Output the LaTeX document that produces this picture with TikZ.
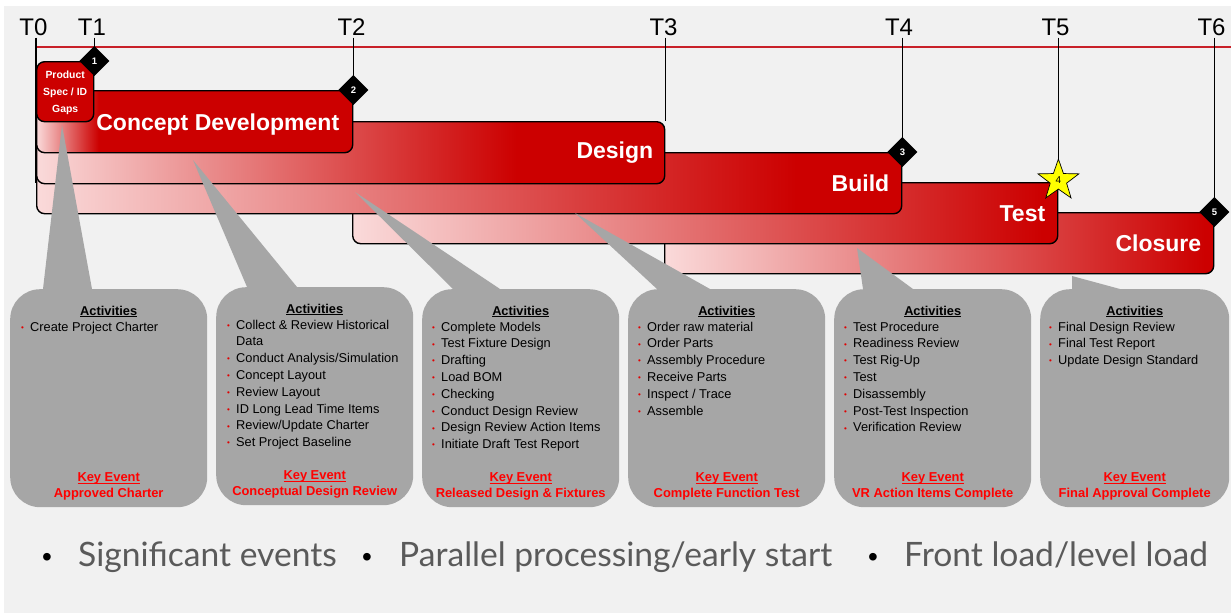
\documentclass[tikz,border=0pt]{standalone}
\usepackage{fontspec}
\setmainfont{Liberation Sans}
\newfontfamily\notefont{Lato}
\usetikzlibrary{shapes.geometric,calc}

\definecolor{pagegray}{RGB}{241,241,241}
\definecolor{barred}{RGB}{204,0,0}
\definecolor{barpink}{RGB}{250,218,218}
\definecolor{axisred}{RGB}{200,32,40}
\definecolor{calloutgray}{RGB}{166,166,166}
\definecolor{eventred}{RGB}{255,0,0}
\definecolor{dotred}{RGB}{225,0,0}
\definecolor{notegray}{RGB}{90,90,90}
\definecolor{staryellow}{RGB}{255,255,0}

% pink-to-red fades; 25bp..75bp of each shading spans the whole bar,
% the red stop sits where the fade reaches full red on that bar
\pgfdeclarehorizontalshading{fadecd}{100bp}{color(0bp)=(barpink); color(25bp)=(barpink); color(34.8bp)=(barred); color(100bp)=(barred)}
\pgfdeclarehorizontalshading{fadede}{100bp}{color(0bp)=(barpink); color(25bp)=(barpink); color(63.2bp)=(barred); color(100bp)=(barred)}
\pgfdeclarehorizontalshading{fadebu}{100bp}{color(0bp)=(barpink); color(25bp)=(barpink); color(68.9bp)=(barred); color(100bp)=(barred)}
\pgfdeclarehorizontalshading{fadete}{100bp}{color(0bp)=(barpink); color(25bp)=(barpink); color(73.9bp)=(barred); color(100bp)=(barred)}
\pgfdeclarehorizontalshading{fadecl}{100bp}{color(0bp)=(barpink); color(25bp)=(barpink); color(74.2bp)=(barred); color(100bp)=(barred)}

% tight underline sitting just below the baseline
\newcommand\ulin[1]{\setbox0=\hbox{#1}\rlap{\rule[-1.8pt]{\wd0}{0.9pt}}\box0}
% activity list entries: small red bullet, then the text
\newcommand\actitem[1]{\strut\makebox[9pt][l]{\raisebox{0.8pt}{\textcolor{dotred}{\fontsize{8}{8}\selectfont\textbullet}}}#1}
\newcommand\actcont[1]{\strut\hspace*{9pt}#1}

\begin{document}
\begin{tikzpicture}[x=1pt,y=-1pt,
  tline/.style={line width=1.6pt, draw=black},
  tlabel/.style={font=\fontsize{24}{24}\selectfont, text=black, inner sep=0pt, outer ysep=2.5pt, anchor=base},
  phasebar/.style={draw=black, line width=1.4pt, rounded corners=8pt, shading=#1, inner sep=0pt, anchor=north west},
  solidbar/.style={draw=black, line width=1.4pt, rounded corners=8pt, fill=barred, inner sep=0pt, anchor=north west},
  phaselabel/.style={font=\bfseries\fontsize{23}{26}\selectfont, text=white, inner sep=0pt, anchor=east},
  gate/.style={regular polygon, regular polygon sides=4, shape border rotate=45, fill=black, minimum size=30pt, inner sep=0pt,
    text=white, font=\bfseries\fontsize{9.5}{10}\selectfont},
  notebox/.style={fill=calloutgray, rounded corners=30pt, minimum width=197pt, minimum height=218pt, inner sep=0pt, anchor=north west},
  tail/.style={fill=calloutgray},
  acttitle/.style={font=\bfseries\fontsize{12.8}{16.8}\selectfont, text=black, inner sep=0pt, anchor=base},
  actlist/.style={font=\fontsize{12.8}{16.8}\selectfont, text=black, align=left, inner sep=0pt, anchor=north west},
  keyevent/.style={font=\bfseries\fontsize{12.9}{16}\selectfont, text=eventred, align=center, inner sep=0pt, anchor=north},
  footline/.style={font=\notefont\fontsize{33.6}{38}\selectfont, text=notegray, inner sep=0pt, anchor=base west},
  footdot/.style={font=\fontsize{28}{28}\selectfont, text=black, inner sep=0pt, anchor=base}
]
\useasboundingbox (0,0) rectangle (1231,614);
\fill[white] (0,0) rectangle (1231,614);
\fill[pagegray] (4,6) rectangle (1231,613);

% milestone labels
\node[tlabel] (t0) at (33.5,35) {T0};
\node[tlabel] (t1) at (92,35) {T1};
\node[tlabel] (t2) at (351.5,35) {T2};
\node[tlabel] (t3) at (663.5,35) {T3};
\node[tlabel] (t4) at (899,35) {T4};
\node[tlabel] (t5) at (1055.5,35) {T5};
\node[tlabel] (t6) at (1211.5,35) {T6};

% phase bars, later phases underneath earlier ones
\node[phasebar=fadecl, minimum width=549pt, minimum height=61pt] (cl) at (664,212) {};
\node[phasebar=fadete, minimum width=705pt, minimum height=61pt] (te) at (352,182) {};
\node[phasebar=fadebu, minimum width=865pt, minimum height=61pt] (bu) at (36,152) {};
\node[phasebar=fadede, minimum width=628pt, minimum height=62pt] (de) at (36,121) {};
\node[phasebar=fadecd, minimum width=316pt, minimum height=62pt] (cd) at (36,90) {};
\node[solidbar, minimum width=57pt, minimum height=60pt] (ps) at (36,61) {};

\node[phaselabel] (cdl) at ([xshift=-14pt,yshift=-2.5pt]cd.east) {Concept Development};
\node[phaselabel] (del) at ([xshift=-12pt]de.east) {Design};
\node[phaselabel] (bul) at ([xshift=-13pt]bu.east) {Build};
\node[phaselabel] (tel) at ([xshift=-13pt]te.east) {Test};
\node[phaselabel] (cll) at ([xshift=-13pt]cl.east) {Closure};
\node[font=\bfseries\fontsize{10.4}{16.7}\selectfont, text=white, align=center, inner sep=0pt] (psl) at ([yshift=-1pt]ps.center) {Product\\Spec / ID\\Gaps};

% time axis
\coordinate (ax0) at (35,47);
\coordinate (ax1) at (1231,47);
\draw[axisred, line width=2pt] (ax0) -- (ax1);

% milestone drop lines
\draw[tline] (t0.south -| bu.west) -- (bu.west);
\draw[tline] (t1.south -| ps.north east) -- (ps.north east);
\draw[tline] (t2.south -| cd.north east) -- (cd.north east);
\draw[tline] (t3.south -| de.north east) -- (de.north east);
\draw[tline] (t4.south -| bu.north east) -- (bu.north east);
\draw[tline] (t5.south -| te.north east) -- (te.north east);
\draw[tline] (t6.south -| cl.north east) -- (cl.north east);

% gates
\node[gate] (g1) at (ps.north east) {1};
\node[gate] (g2) at (cd.north east) {2};
\node[gate] (g3) at (bu.north east) {3};
\node[star, star points=5, star point ratio=2.5, fill=staryellow, draw=black, line width=0.7pt,
      minimum size=43pt, inner sep=0pt, font=\fontsize{10}{10}\selectfont] (g4) at ([yshift=1.5pt]te.north east) {4};
\node[gate] (g5) at (cl.north east) {5};

% activity boxes
\node[notebox] (b1) at (10,289) {};
\node[notebox] (b2) at (216,287) {};
\node[notebox] (b3) at (422,289) {};
\node[notebox] (b4) at (628,289) {};
\node[notebox] (b5) at (834,289) {};
\node[notebox, minimum width=189pt] (b6) at (1040,289) {};

% box tails pointing into the phase bars
\coordinate (p1) at (62,125);
\coordinate (p2) at (193,160);
\coordinate (p3) at (355,192);
\coordinate (p4) at (575,213);
\coordinate (p5) at (857,248);
\coordinate (p6) at (1072,276);
\fill[tail] (p1) -- ([xshift=33pt]b1.north west) -- ([xshift=33pt,yshift=-12pt]b1.north west) -- ([xshift=82pt,yshift=-12pt]b1.north west) -- ([xshift=82pt]b1.north west) -- cycle;
\fill[tail] (p2) -- ([xshift=31pt]b2.north west) -- ([xshift=31pt,yshift=-12pt]b2.north west) -- ([xshift=81pt,yshift=-12pt]b2.north west) -- ([xshift=81pt]b2.north west) -- cycle;
\fill[tail] (p3) -- ([xshift=31pt]b3.north west) -- ([xshift=31pt,yshift=-12pt]b3.north west) -- ([xshift=78pt,yshift=-12pt]b3.north west) -- ([xshift=78pt]b3.north west) -- cycle;
\fill[tail] (p4) -- ([xshift=29pt]b4.north west) -- ([xshift=29pt,yshift=-12pt]b4.north west) -- ([xshift=82pt,yshift=-12pt]b4.north west) -- ([xshift=82pt]b4.north west) -- cycle;
\fill[tail] (p5) -- ([xshift=29pt]b5.north west) -- ([xshift=29pt,yshift=-12pt]b5.north west) -- ([xshift=79pt,yshift=-12pt]b5.north west) -- ([xshift=79pt]b5.north west) -- cycle;
\fill[tail] (p6) -- ([xshift=32pt]b6.north west) -- ([xshift=32pt,yshift=-12pt]b6.north west) -- ([xshift=80pt,yshift=-12pt]b6.north west) -- ([xshift=80pt]b6.north west) -- cycle;

% box contents
\foreach \b in {1,...,6}{
  \node[acttitle] (a\b) at ([yshift=-26pt]b\b.north) {\ulin{Activities}};
}
\node[actlist] (l1) at ([xshift=11pt,yshift=-30.2pt]b1.north west) {\actitem{Create Project Charter}};
\node[actlist] (l2) at ([xshift=11pt,yshift=-30.2pt]b2.north west) {\actitem{Collect \& Review Historical}\\\actcont{Data}\\\actitem{Conduct Analysis/Simulation}\\\actitem{Concept Layout}\\\actitem{Review Layout}\\\actitem{ID Long Lead Time Items}\\\actitem{Review/Update Charter}\\\actitem{Set Project Baseline}};
\node[actlist] (l3) at ([xshift=10pt,yshift=-30.2pt]b3.north west) {\actitem{Complete Models}\\\actitem{Test Fixture Design}\\\actitem{Drafting}\\\actitem{Load BOM}\\\actitem{Checking}\\\actitem{Conduct Design Review}\\\actitem{Design Review Action Items}\\\actitem{Initiate Draft Test Report}};
\node[actlist] (l4) at ([xshift=10pt,yshift=-30.2pt]b4.north west) {\actitem{Order raw material}\\\actitem{Order Parts}\\\actitem{Assembly Procedure}\\\actitem{Receive Parts}\\\actitem{Inspect / Trace}\\\actitem{Assemble}};
\node[actlist] (l5) at ([xshift=10pt,yshift=-30.2pt]b5.north west) {\actitem{Test Procedure}\\\actitem{Readiness Review}\\\actitem{Test Rig-Up}\\\actitem{Test}\\\actitem{Disassembly}\\\actitem{Post-Test Inspection}\\\actitem{Verification Review}};
\node[actlist] (l6) at ([xshift=9pt,yshift=-30.2pt]b6.north west) {\actitem{Final Design Review}\\\actitem{Final Test Report}\\\actitem{Update Design Standard}};

\node[keyevent] (k1) at ([yshift=-181.3pt]b1.north) {\strut\ulin{Key Event}\\\strut Approved Charter};
\node[keyevent] (k2) at ([yshift=-181.3pt]b2.north) {\strut\ulin{Key Event}\\\strut Conceptual Design Review};
\node[keyevent] (k3) at ([yshift=-181.3pt]b3.north) {\strut\ulin{Key Event}\\\strut Released Design \& Fixtures};
\node[keyevent] (k4) at ([yshift=-181.3pt]b4.north) {\strut\ulin{Key Event}\\\strut Complete Function Test};
\node[keyevent] (k5) at ([yshift=-181.3pt]b5.north) {\strut\ulin{Key Event}\\\strut VR Action Items Complete};
\node[keyevent] (k6) at ([yshift=-181.3pt]b6.north) {\strut\ulin{Key Event}\\\strut Final Approval Complete};

% summary line
\node[footdot] (f1d) at (47,566) {•};
\node[footline] (f1) at (78,566) {Significant events};
\node[footdot] (f2d) at (367,566) {•};
\node[footline] (f2) at (399,566) {Parallel processing/early start};
\node[footdot] (f3d) at (873,566) {•};
\node[footline] (f3) at (904,566) {Front load/level load};
\end{tikzpicture}
\end{document}
